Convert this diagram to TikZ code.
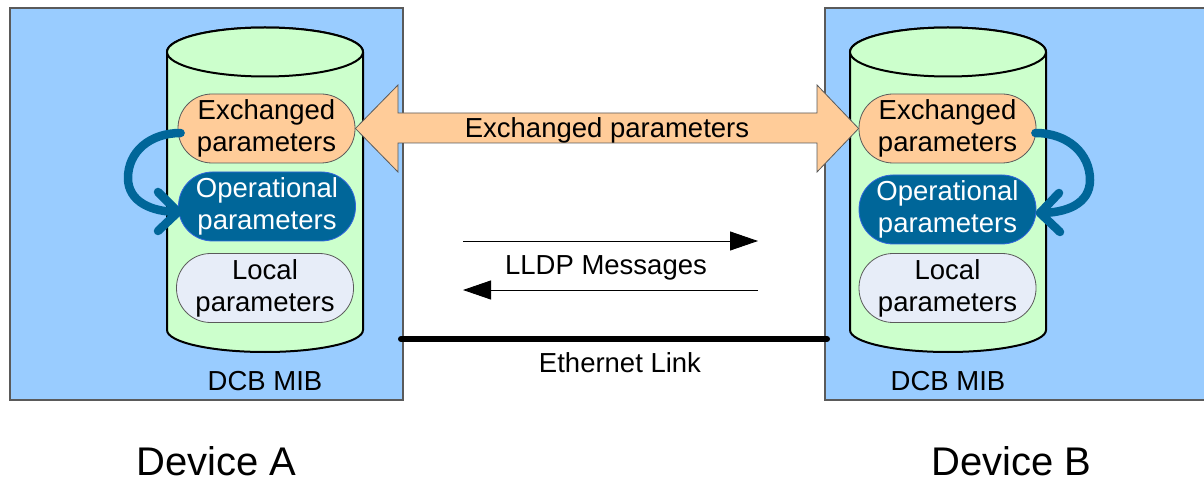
\documentclass[tikz,border=0pt]{standalone}
\usepackage{fontspec}
\setmainfont{Liberation Sans}
\usetikzlibrary{arrows.meta}
\definecolor{boxblue}{RGB}{153,204,255}
\definecolor{cylgreen}{RGB}{204,255,204}
\definecolor{peach}{RGB}{255,204,153}
\definecolor{opblue}{RGB}{0,102,153}
\definecolor{opborder}{RGB}{51,102,221}
\definecolor{localfill}{RGB}{231,237,248}
\definecolor{edgegray}{RGB}{90,90,90}
\tikzset{
  devbox/.style={draw=edgegray, line width=1.1pt, fill=boxblue, minimum width=393pt, minimum height=392pt, inner sep=0pt},
  cylbody/.style={draw=black, line width=2pt, fill=cylgreen},
  param/.style={draw=edgegray, line width=0.8pt, rounded corners=34pt, minimum width=177pt, minimum height=69pt, inner sep=0pt, align=center, font=\fontsize{27.5}{32}\selectfont},
  exch/.style={param, fill=peach},
  oper/.style={param, fill=opblue, draw=opborder, text=white},
  locl/.style={param, fill=localfill},
  lbl/.style={inner sep=0pt, anchor=base, font=\fontsize{27.5}{32}\selectfont},
  devlbl/.style={inner sep=0pt, anchor=base, font=\fontsize{40}{46}\selectfont},
  curv/.style={draw=opblue, line width=8.5pt, line cap=round, line join=round},
  msg/.style={line width=0.9pt, -{Triangle[length=28pt,width=19pt]}},
  link/.style={line width=6pt, line cap=round},
  dblarrow/.style={draw=edgegray, line width=0.8pt, fill=peach, line join=miter}
}
\begin{document}
\begin{tikzpicture}[x=1pt,y=1pt]
\useasboundingbox (0,0) rectangle (1204,-478);
% device boxes
\node[devbox] (boxA) at (206.5,-204) {};
\node[devbox] (boxB) at (1021.5,-204) {};
% cylinders
\foreach \cx/\nm in {265/cylA, 948/cylB}{
  \draw[cylbody] (\cx-98,-52) -- (\cx-98,-330) arc[start angle=180, end angle=360, x radius=98, y radius=22] -- (\cx+98,-52) arc[start angle=0, end angle=180, x radius=98, y radius=24.5] -- cycle;
  \draw[cylbody] (\cx,-52) ellipse[x radius=98, y radius=24.5];
  \coordinate (\nm) at (\cx,-190);
}
% parameter nodes A
\node[exch] (exA) at (266.5,-128.5) {Exchanged\\parameters};
\node[oper] (opA) at (267,-206.5) {Operational\\parameters};
\node[locl] (loA) at (265,-288) {Local\\parameters};
% parameter nodes B
\node[exch] (exB) at (947.5,-128.5) {Exchanged\\parameters};
\node[oper] (opB) at (947.5,-209.5) {Operational\\parameters};
\node[locl] (loB) at (947.5,-288) {Local\\parameters};
% curved arrows
\coordinate (tipA) at (178,-212);
\draw[curv] ([shift={(3,-4.5)}]exA.west) .. controls +(-31,0) and +(0,26) .. (128,-178) .. controls +(0,-24) and +(-26,0) .. (tipA);
\draw[curv] ([shift={(-20,20)}]tipA) -- (tipA) -- ([shift={(-20,-19)}]tipA);
\coordinate (tipB) at (1040,-213);
\draw[curv] ([shift={(-1,-4.5)}]exB.east) .. controls +(33,0) and +(0,26) .. (1090,-180) .. controls +(0,-24) and +(26,0) .. (tipB);
\draw[curv] ([shift={(19,20)}]tipB) -- (tipB) -- ([shift={(20,-19)}]tipB);
% double arrow
\draw[dblarrow] (exA.east) -- (398,-85) -- (398,-113) -- (817,-113) -- (817,-85) -- (exB.west) -- (817,-172) -- (817,-143) -- (398,-143) -- (398,-172) -- cycle;
\node[lbl] (exlbl) at (607,-138) {Exchanged parameters};
% LLDP messages
\coordinate (m1s) at (463,-241);
\coordinate (m1e) at (758,-241);
\coordinate (m2s) at (758,-290);
\coordinate (m2e) at (463,-290);
\draw[msg] (m1s) -- (m1e);
\draw[msg] (m2s) -- (m2e);
\node[lbl] (lldp) at (606,-274) {LLDP Messages};
% ethernet link
\coordinate (ethA) at (401,-339);
\coordinate (ethB) at (827,-339);
\draw[link] (ethA) -- (ethB);
\node[lbl] (eth) at (620,-372) {Ethernet Link};
% DCB MIB labels
\node[lbl] (mibA) at (265,-390) {DCB MIB};
\node[lbl] (mibB) at (948,-390) {DCB MIB};
% device labels
\node[devlbl] (devA) at (216.5,-475) {Device A};
\node[devlbl] (devB) at (1011.5,-475) {Device B};
\end{tikzpicture}
\end{document}
